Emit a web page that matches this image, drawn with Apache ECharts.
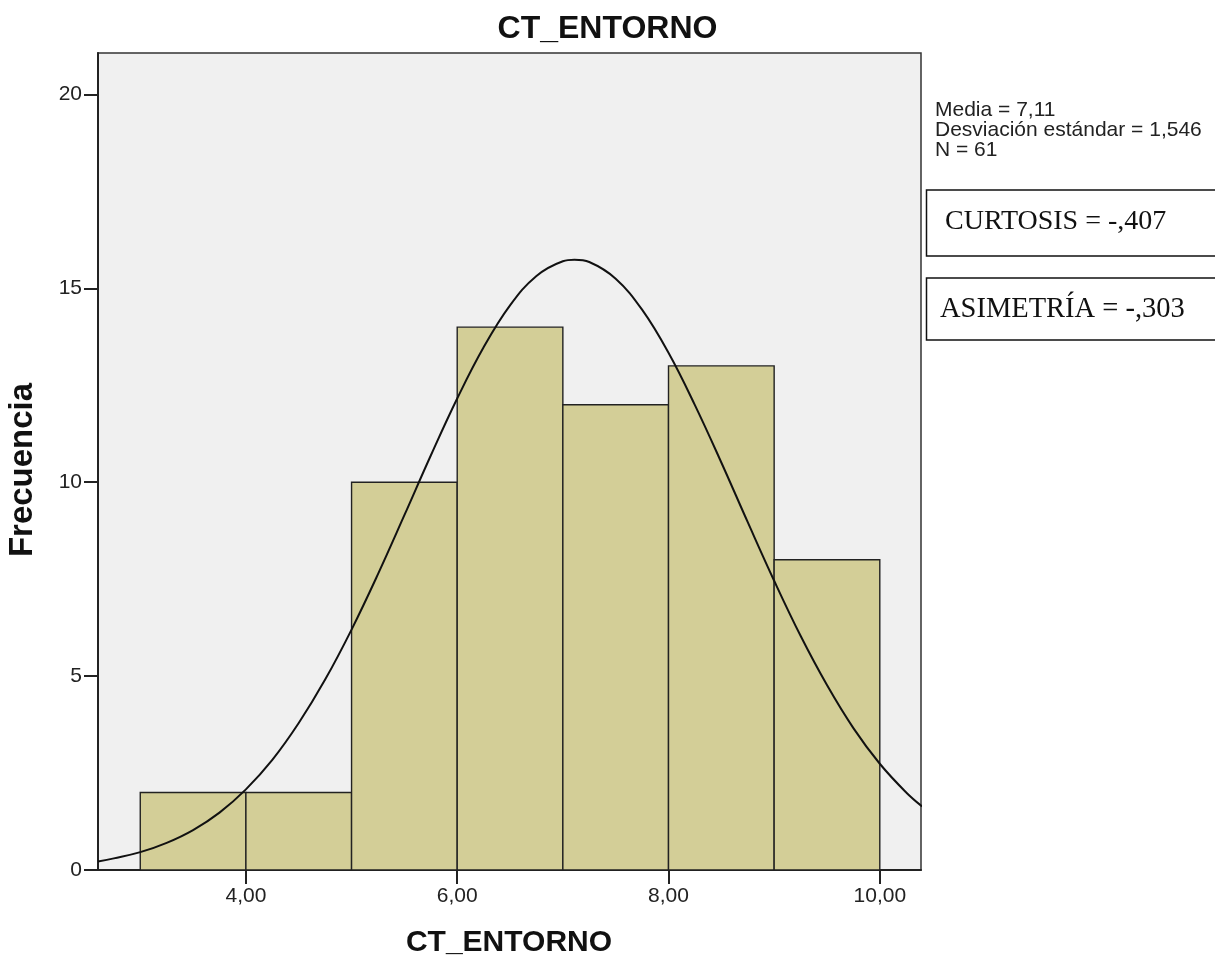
<!DOCTYPE html>
<html><head><meta charset="utf-8">
<script src="https://cdn.jsdelivr.net/npm/echarts@6/dist/echarts.min.js"></script>
<style>html,body{margin:0;padding:0;background:#fff}#c{width:1215px;height:961px}</style>
</head><body><div id="c"></div>
<script>
var binStart = [3, 4, 5, 6, 7, 8, 9];
var binEnd   = [4, 5, 6, 7, 8, 9, 10];
var freq     = [2, 2, 10, 14, 12, 13, 8];
var curveX = [2.6,2.75,3,3.25,3.5,3.75,4,4.25,4.5,4.75,5,5.25,5.5,5.75,6,6.25,6.5,6.75,7,7.11,7.25,7.5,7.75,8,8.25,8.5,8.75,9,9.25,9.5,9.75,10,10.25,10.4];
var curveY = [0.22,0.30,0.46,0.70,1.03,1.48,2.08,2.84,3.79,4.91,6.20,7.63,9.15,10.69,12.16,13.48,14.56,15.32,15.70,15.74,15.68,15.25,14.45,13.34,11.99,10.51,8.97,7.46,6.04,4.77,3.66,2.74,2.00,1.64];
var xTicks = [4, 6, 8, 10];
var xTickLabels = ['4,00', '6,00', '8,00', '10,00'];
var yTicks = [0, 5, 10, 15, 20];
var titleText = 'CT_ENTORNO';
var xName = 'CT_ENTORNO';
var yName = 'Frecuencia';
var statsLines = ['Media = 7,11', 'Desviación estándar = 1,546', 'N = 61'];
var curtosisText = 'CURTOSIS = -,407';
var asimetriaText = 'ASIMETRÍA = -,303';

var chart = echarts.init(document.getElementById('c'), null, {renderer: 'canvas'});
var barData = binStart.map(function (s, i) { return [s, binEnd[i], freq[i]]; });
var lineData = curveX.map(function (x, i) { return [x, curveY[i]]; });
var ff = 'Arial, "Liberation Sans", sans-serif';
var serif = '"Liberation Serif", "Times New Roman", serif';

chart.setOption({
  animation: false,
  backgroundColor: '#ffffff',
  grid: {left: 98, right: 294, top: 53, bottom: 91, show: true, backgroundColor: '#f0f0f0', borderColor: '#333', borderWidth: 1.5},
  xAxis: {
    type: 'value', min: 2.6, max: 10.39,
    axisLine: {show: true, onZero: false, lineStyle: {color: '#222', width: 2}},
    axisTick: {show: true, length: 14, customValues: xTicks, lineStyle: {color: '#222', width: 2}},
    axisLabel: {customValues: xTicks, color: '#222', fontFamily: ff, fontSize: 21, margin: 16,
      formatter: function (v) { var i = xTicks.indexOf(v); return i >= 0 ? xTickLabels[i] : ''; }},
    splitLine: {show: false}
  },
  yAxis: {
    type: 'value', min: 0, max: 21.07,
    axisLine: {show: true, lineStyle: {color: '#222', width: 2}},
    axisTick: {show: true, length: 14, customValues: yTicks, lineStyle: {color: '#222', width: 2}},
    axisLabel: {customValues: yTicks, color: '#222', fontFamily: ff, fontSize: 21, margin: 16},
    splitLine: {show: false}
  },
  series: [{
    type: 'custom',
    data: barData,
    renderItem: function (params, api) {
      var p0 = api.coord([api.value(0), 0]);
      var p1 = api.coord([api.value(1), api.value(2)]);
      return {type: 'rect', shape: {x: p0[0], y: p1[1], width: p1[0] - p0[0], height: p0[1] - p1[1]},
        style: {fill: '#d3ce97', stroke: '#222', lineWidth: 1.4}};
    },
    z: 2
  }, {
    type: 'line', data: lineData, smooth: 0.4, showSymbol: false, symbol: 'none',
    lineStyle: {color: '#111', width: 2}, z: 3
  }],
  graphic: [
    {type: 'text', x: 607.5, y: 29.5, style: {text: titleText, font: 'bold 32px ' + ff, fill: '#111', textAlign: 'center', textVerticalAlign: 'middle'}},
    {type: 'text', x: 509, y: 942.5, style: {text: xName, font: 'bold 30px ' + ff, fill: '#111', textAlign: 'center', textVerticalAlign: 'middle'}},
    {type: 'text', x: 23, y: 470, rotation: Math.PI / 2, style: {text: yName, font: 'bold 33px ' + ff, fill: '#111', textAlign: 'center', textVerticalAlign: 'middle'}},
    {type: 'text', x: 935, y: 100, style: {text: statsLines.join('\n'), font: '21px ' + ff, lineHeight: 20, fill: '#222', textVerticalAlign: 'top'}},
    {type: 'rect', shape: {x: 926.5, y: 190, width: 300, height: 66}, style: {fill: '#fff', stroke: '#111', lineWidth: 1.5}},
    {type: 'text', x: 945, y: 222, style: {text: curtosisText, font: '28px ' + serif, fill: '#111', textVerticalAlign: 'middle'}},
    {type: 'rect', shape: {x: 926.5, y: 278, width: 300, height: 62}, style: {fill: '#fff', stroke: '#111', lineWidth: 1.5}},
    {type: 'text', x: 940, y: 310, style: {text: asimetriaText, font: '28.5px ' + serif, fill: '#111', textVerticalAlign: 'middle'}}
  ]
});
</script></body></html>
